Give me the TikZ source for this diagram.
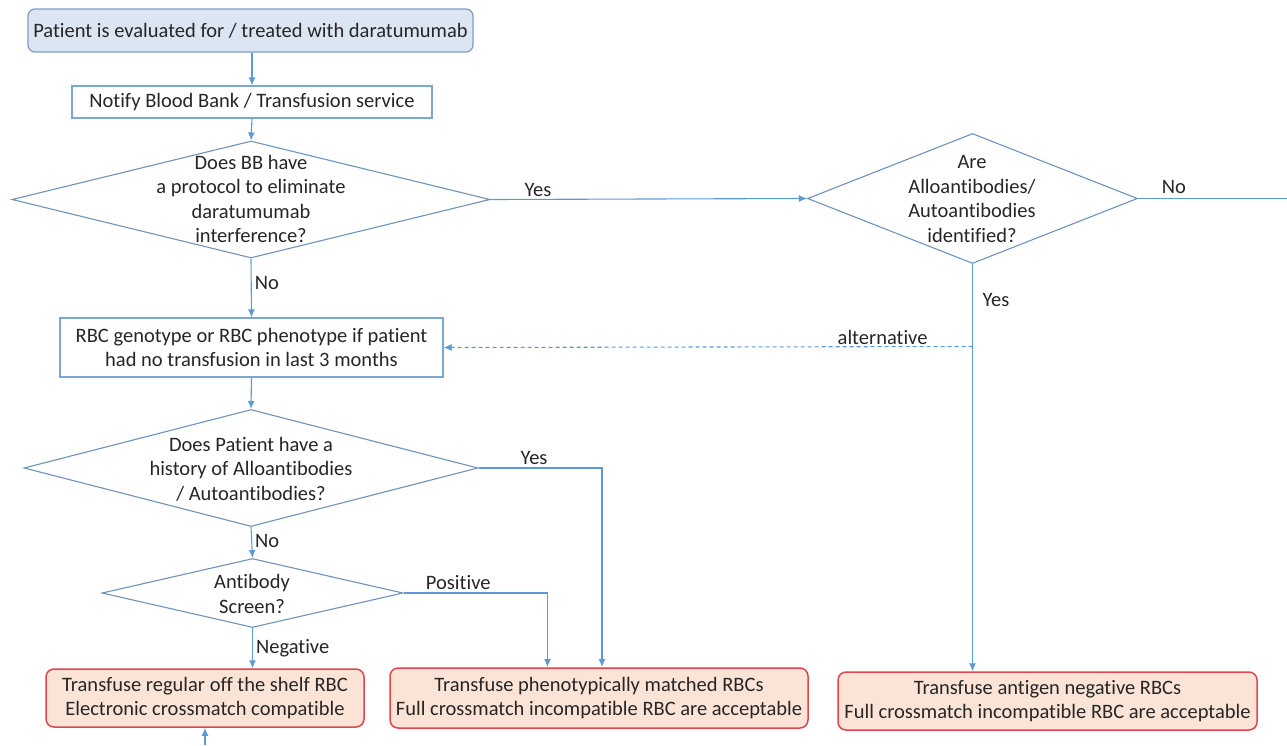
\documentclass[tikz,border=0pt]{standalone}
\usepackage{fontspec}
\setmainfont{Carlito}[RawFeature=-liga]
\usetikzlibrary{shapes.geometric,arrows.meta}
\definecolor{lineblue}{HTML}{5B9BD5}
\definecolor{boxblue}{HTML}{7EA6D3}
\definecolor{diablue}{HTML}{6F93BA}
\definecolor{startfill}{HTML}{DCE6F2}
\definecolor{startdraw}{HTML}{7F9CBE}
\definecolor{endfill}{HTML}{FBE4D6}
\definecolor{enddraw}{HTML}{E0464E}
\tikzset{
  x=1pt, y=-1pt,
  every node/.style={font=\fontsize{20.5}{24.5}\selectfont, text=black!85},
  conn/.style={draw=lineblue, line width=1.1pt},
  arr/.style={conn, -{Latex[length=8pt,width=7pt]}},
  dasharr/.style={arr, dashed, dash pattern=on 4pt off 3pt},
  procbox/.style={draw=boxblue, line width=1.2pt, fill=white, align=center, inner sep=0pt},
  startbox/.style={draw=startdraw, line width=1.2pt, fill=startfill, rounded corners=7pt, inner sep=0pt},
  endbox/.style={draw=enddraw, line width=1.5pt, fill=endfill, rounded corners=8pt, align=center, inner sep=0pt},
  dia/.style={diamond, draw=diablue, line width=1.1pt, fill=white, inner sep=0pt},
  diatext/.style={align=center, inner sep=0pt},
  lbl/.style={inner sep=0pt},
}
\begin{document}
\begin{tikzpicture}
\useasboundingbox (0,0) rectangle (1287,745);
% nodes
\node[startbox, minimum width=445, minimum height=43] (start) at (250.5,30.5) {Patient is evaluated for / treated with daratumumab};
\node[procbox, minimum width=360, minimum height=32] (notify) at (252,102) {Notify Blood Bank / Transfusion service};
\node[dia, minimum width=478, minimum height=117] (d1) at (251,199.5) {};
\node[diatext] (d1t) at (251,199) {Does BB have\\a protocol to eliminate\\daratumumab\\interference?};
\node[dia, minimum width=330, minimum height=130] (d2) at (972.5,198.5) {};
\node[diatext] (d2t) at (972,199) {Are\\Alloantibodies/\\Autoantibodies\\identified?};
\node[procbox, minimum width=383, minimum height=59] (geno) at (251.5,347.5) {RBC genotype or RBC phenotype if patient\\had no transfusion in last 3 months};
\node[dia, minimum width=454, minimum height=117] (d3) at (251,468) {};
\node[diatext] (d3t) at (251,469) {Does Patient have a\\history of Alloantibodies\\/ Autoantibodies?};
\node[dia, minimum width=301, minimum height=69] (d4) at (252.5,593) {};
\node[diatext] (d4t) at (252,594) {Antibody\\Screen?};
\node[endbox, minimum width=318, minimum height=58] (e1) at (205,698) {Transfuse regular off the shelf RBC\\Electronic crossmatch compatible};
\node[endbox, minimum width=418, minimum height=60] (e2) at (599,698) {Transfuse phenotypically matched RBCs\\Full crossmatch incompatible RBC are acceptable};
\node[endbox, minimum width=419, minimum height=58] (e3) at (1047.5,701) {Transfuse antigen negative RBCs\\Full crossmatch incompatible RBC are acceptable};
% free ends
\coordinate (noend) at (1287,198.5);
\coordinate (bottomin) at (205,745);
\coordinate (altstart) at (972.5,346.5);
% connectors
\draw[arr] (start.south -| notify.north) -- (notify.north);
\draw[arr] (notify.south) -- (d1.north);
\draw[arr] (d1.east) -- node[lbl, above, pos=0.15, yshift=2pt] (lyes1) {Yes} (d2.west);
\draw[conn] (d2.east) -- node[lbl, above, pos=0.24, yshift=4pt] (lno2) {No} (noend);
\draw[arr] (d1.south) -- node[lbl, right, pos=0.42, xshift=3pt] (lno1) {No} (geno.north);
\draw[arr] (d2.south) -- (d2.south |- e3.north);
\node[lbl] (lyes2) at (996,300) {Yes};
\draw[dasharr] (altstart) -- node[lbl, above, pos=0.17, yshift=1pt] (lalt) {alternative} (geno.east);
\draw[arr] (geno.south) -- (d3.north);
\draw[arr] (d3.east) -- node[lbl, above, pos=0.45, yshift=3pt] (lyes3) {Yes} (602,468) -- (602,667);
\draw[arr] (d3.south) -- node[lbl, right, pos=0.45, xshift=3pt] (lno3) {No} (d4.north);
\draw[arr] (d4.east) -- node[lbl, above, pos=0.38, yshift=3pt] (lpos) {Positive} (547.5,593) -- (547.5,667);
\draw[arr] (d4.south) -- node[lbl, right, pos=0.5, xshift=3pt] (lneg) {Negative} (d4.south |- e1.north);
\draw[arr] (bottomin) -- (e1.south);
\end{tikzpicture}
\end{document}
